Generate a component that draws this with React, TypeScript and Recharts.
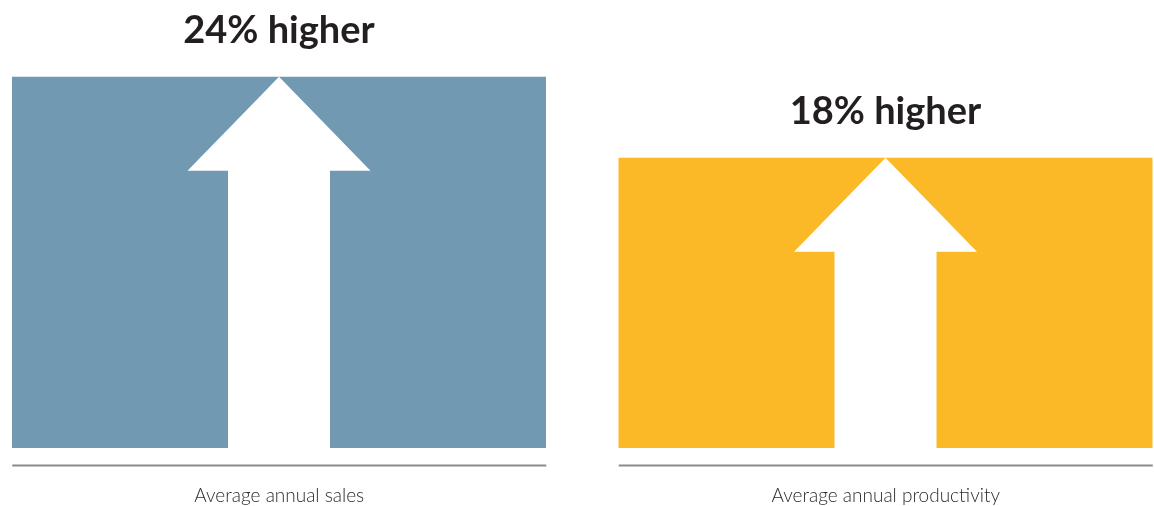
import React from 'react';
import { Bar, BarChart, Cell, LabelList, XAxis, YAxis } from 'recharts';

const categories = ['Average annual sales', 'Average annual productivity'];
const increases = [24, 18];
const valueLabels = ['24% higher', '18% higher'];
const barColors = ['#7199b2', '#fbb827'];
// bars in the infographic start below zero (not drawn to scale)
const BAR_FLOOR = -3.5;

const data = categories.map((name, i) => ({
  name,
  value: [BAR_FLOOR, increases[i]],
  label: valueLabels[i],
}));

const BAR_SIZE = 534;
const HEAD_HALF = 91.5;
const HEAD_HEIGHT = 94;
const SHAFT_HALF = 51;

function ArrowBar(props: any) {
  const { x, y, width, height, fill } = props;
  const cx = x + width / 2;
  const bottom = y + height;
  const baseY = y + HEAD_HEIGHT;
  const points = [
    [cx, y],
    [cx + HEAD_HALF, baseY],
    [cx + SHAFT_HALF, baseY],
    [cx + SHAFT_HALF, bottom],
    [cx - SHAFT_HALF, bottom],
    [cx - SHAFT_HALF, baseY],
    [cx - HEAD_HALF, baseY],
  ]
    .map((p) => p.join(','))
    .join(' ');
  return (
    <g>
      <rect x={x} y={y} width={width} height={height} fill={fill} />
      <polygon points={points} fill="#ffffff" />
    </g>
  );
}

function CategoryTick(props: any) {
  const { x, y, payload } = props;
  return (
    <g>
      <line x1={x - BAR_SIZE / 2} x2={x + BAR_SIZE / 2} y1={y + 17.5} y2={y + 17.5} stroke="#8a8a8a" strokeWidth={2} />
      <text
        x={x}
        y={y + 54}
        textAnchor="middle"
        fill="#2b2b2b"
        fontSize={19}
        fontWeight={300}
        fontFamily="Lato, 'Noto Sans', sans-serif"
      >
        {payload.value}
      </text>
    </g>
  );
}

function ValueLabel(props: any) {
  const { x, y, width, value } = props;
  return (
    <text
      x={x + width / 2}
      y={y - 34}
      textAnchor="middle"
      fill="#231f20"
      fontSize={38}
      fontWeight={700}
      fontFamily="Lato, 'Noto Sans', sans-serif"
    >
      {value}
    </text>
  );
}

export default function App() {
  return (
    <div style={{ position: 'fixed', top: 0, left: 8, width: 1146, height: 506, overflow: 'hidden' }}>
      <BarChart
        width={1146}
        height={506}
        data={data}
        margin={{ top: 9.25, right: -35, left: -32, bottom: 0 }}
      >
        <XAxis
          dataKey="name"
          axisLine={false}
          tickLine={false}
          tickSize={0}
          tickMargin={0}
          height={58}
          interval={0}
          tick={<CategoryTick />}
        />
        <YAxis hide domain={[BAR_FLOOR, 29]} />
        <Bar dataKey="value" barSize={BAR_SIZE} shape={<ArrowBar />} isAnimationActive={false}>
          {data.map((d, i) => (
            <Cell key={d.name} fill={barColors[i]} />
          ))}
          <LabelList dataKey="label" content={<ValueLabel />} />
        </Bar>
      </BarChart>
    </div>
  );
}
